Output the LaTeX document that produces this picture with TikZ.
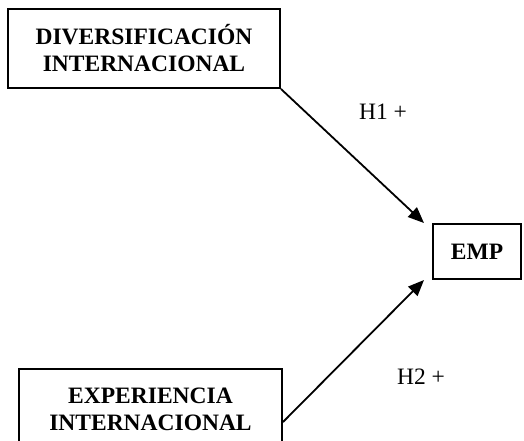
\documentclass[tikz,border=0pt]{standalone}
\usepackage{fontspec}
\setmainfont{Liberation Serif}
\usetikzlibrary{positioning, arrows.meta, calc}

\begin{document}
\begin{tikzpicture}[
    x=1pt, y=-1pt,
    font=\fontsize{23.5}{27}\selectfont,
    construct/.style={rectangle, draw, line width=2pt, align=center, font=\fontsize{23.5}{27}\selectfont\bfseries, inner sep=0pt},
    arrow/.style={-{Triangle[length=16pt, width=13pt]}, line width=1.8pt}
]
\useasboundingbox (0,0) rectangle (524,440);

\node[construct, minimum width=272pt, minimum height=79pt] (div) at (144,48.5) {DIVERSIFICACIÓN\\INTERNACIONAL};
\node[construct, minimum width=88pt, minimum height=55pt] (emp) at (477,251.5) {EMP};
\node[construct, minimum width=263pt, minimum height=80pt] (exp) at (150.5,409) {EXPERIENCIA\\INTERNACIONAL};

\node (h1) at (383,112) {H1 +};
\node (h2) at (421,377) {H2 +};

\draw[arrow] (div.south east) -- ([xshift=-8pt]emp.north west);
\draw[arrow] ([yshift=-13pt]exp.east) -- ([xshift=-8pt]emp.south west);

\end{tikzpicture}
\end{document}
